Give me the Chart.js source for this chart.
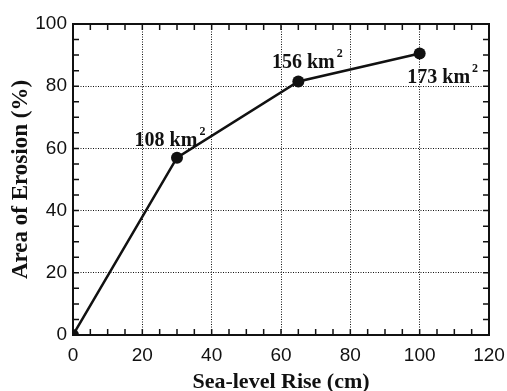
<!DOCTYPE html>
<html>
<head>
<meta charset="utf-8">
<script src="https://cdn.jsdelivr.net/npm/chart.js@4"></script>
<style>
  body { margin: 0; background: #fff; }
</style>
</head>
<body>
<canvas id="myChart" width="507" height="391"></canvas>
<script>
// values
const seaLevelRise = [0, 30, 65, 100];          // cm
const erosionArea = [0, 57, 81.5, 90.5];        // %
const areaLabels = ['', '108 km', '156 km', '173 km'];
const xTicks = [0, 20, 40, 60, 80, 100, 120];
const yTicks = [0, 20, 40, 60, 80, 100];

// where each area label sits relative to its point (px)
const labelOffsets = [[0, 0], [-11, -12], [5, -14], [19, 29]];

const ink = '#111';

const framePlugin = {
  id: 'frame',
  afterDraw(chart) {
    const {ctx, chartArea: a, scales} = chart;
    ctx.save();
    ctx.strokeStyle = ink;
    ctx.lineWidth = 2;
    ctx.strokeRect(a.left, a.top, a.right - a.left, a.bottom - a.top);
    ctx.lineWidth = 1.5;
    ctx.beginPath();
    for (let v = 0; v <= 120; v += 5) {
      const x = scales.x.getPixelForValue(v);
      ctx.moveTo(x, a.bottom); ctx.lineTo(x, a.bottom - 6);
      ctx.moveTo(x, a.top); ctx.lineTo(x, a.top + 6);
    }
    for (let v = 0; v <= 100; v += 5) {
      const y = scales.y.getPixelForValue(v);
      ctx.moveTo(a.left, y); ctx.lineTo(a.left + 6, y);
      ctx.moveTo(a.right, y); ctx.lineTo(a.right - 6, y);
    }
    ctx.stroke();
    ctx.restore();
  }
};

const labelPlugin = {
  id: 'areaLabels',
  afterDatasetsDraw(chart) {
    const {ctx, scales} = chart;
    ctx.save();
    ctx.fillStyle = ink;
    ctx.textBaseline = 'alphabetic';
    areaLabels.forEach((txt, i) => {
      if (!txt) return;
      const px = scales.x.getPixelForValue(seaLevelRise[i]) + labelOffsets[i][0];
      const py = scales.y.getPixelForValue(erosionArea[i]) + labelOffsets[i][1];
      ctx.font = 'bold 20px "Liberation Serif"';
      const w = ctx.measureText(txt).width;
      ctx.textAlign = 'left';
      ctx.fillText(txt, px - w / 2, py);
      ctx.font = 'bold 12px "Liberation Serif"';
      ctx.fillText('2', px + w / 2 + 2, py - 11);
    });
    ctx.restore();
  }
};

const ctx = document.getElementById('myChart');

new Chart(ctx, {
  type: 'scatter',
  data: {
    datasets: [{
      data: seaLevelRise.map((x, i) => ({x: x, y: erosionArea[i]})),
      showLine: true,
      borderColor: ink,
      backgroundColor: ink,
      borderWidth: 2.5,
      pointRadius: 6,
      pointBorderWidth: 0,
      pointBackgroundColor: ink
    }]
  },
  options: {
    responsive: false,
    animation: false,
    layout: { padding: { left: 0, top: 24, right: 18, bottom: 0 } },
    plugins: { legend: { display: false }, tooltip: { enabled: false } },
    scales: {
      x: {
        type: 'linear',
        min: 0,
        max: 120,
        afterFit: (s) => { s.height = 56; s.paddingLeft = 0; s.paddingRight = 0; },
        afterBuildTicks: (s) => { s.ticks = xTicks.map(v => ({value: v})); },
        ticks: {
          color: ink,
          padding: 9,
          font: { family: '"Liberation Sans"', size: 19 }
        },
        grid: { color: ink, lineWidth: 1, drawTicks: false },
        border: { display: false, dash: [1, 1.5] },
        title: {
          display: true,
          text: 'Sea-level Rise (cm)',
          color: ink,
          padding: 0,
          font: { family: '"Liberation Serif"', size: 22, weight: 'bold', lineHeight: 0.8 }
        }
      },
      y: {
        type: 'linear',
        min: 0,
        max: 100,
        afterFit: (s) => { s.width = 73; s.paddingTop = 0; s.paddingBottom = 0; },
        afterBuildTicks: (s) => { s.ticks = yTicks.map(v => ({value: v})); },
        ticks: {
          color: ink,
          padding: 6,
          font: { family: '"Liberation Sans"', size: 19 }
        },
        grid: { color: ink, lineWidth: 1, drawTicks: false },
        border: { display: false, dash: [1, 1.5] },
        title: {
          display: true,
          text: 'Area of Erosion (%)',
          color: ink,
          padding: { top: 7 },
          font: { family: '"Liberation Serif"', size: 23, weight: 'bold' }
        }
      }
    }
  },
  plugins: [framePlugin, labelPlugin]
});
</script>
</body>
</html>
